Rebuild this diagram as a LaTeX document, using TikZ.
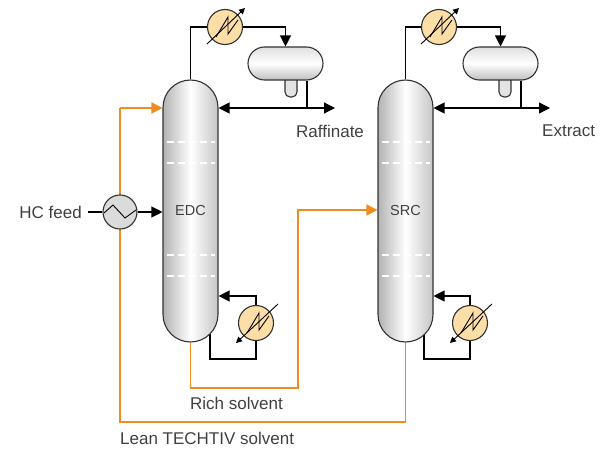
\documentclass[tikz,border=0pt]{standalone}
\usepackage{fontspec}
\setmainfont{Liberation Sans}
\usetikzlibrary{arrows.meta,calc,backgrounds}
\definecolor{orng}{RGB}{240,140,30}
\definecolor{cond}{RGB}{252,222,166}
\definecolor{txt}{RGB}{64,64,64}
\definecolor{edge}{RGB}{50,50,50}
\begin{document}
\begin{tikzpicture}[x=1pt,y=-1pt,
  line/.style={draw=black, line width=1.2pt},
  oline/.style={draw=orng, line width=1.5pt},
  tip/.style={-{Triangle[length=11pt,width=11pt]}},
  twotip/.style={{Triangle[length=11pt,width=11pt]}-{Triangle[length=11pt,width=11pt]}},
  smalltip/.style={-{Triangle[length=6pt,width=6pt]}},
  column/.style={draw=edge, line width=1.1pt, minimum width=55pt, minimum height=262pt, rounded corners=27.5pt, left color=gray!60, right color=gray!45, middle color=white, inner sep=0pt, font=\fontsize{14.5}{16}\selectfont, text=txt},
  drum/.style={draw=edge, line width=1.1pt, minimum width=75pt, minimum height=33pt, rounded corners=16.5pt, top color=gray!25, bottom color=gray!50, middle color=white, inner sep=0pt},
  boot/.style={draw=edge, line width=1.1pt, fill=gray!22, rounded corners=5pt},
  hx/.style={circle, draw=edge, line width=1.1pt, fill=cond, minimum size=35pt, inner sep=0pt},
  exch/.style={circle, draw=edge, line width=1.1pt, fill=gray!28, minimum size=34pt, inner sep=0pt},
  tray/.style={draw=white, line width=1.6pt, dash pattern=on 7pt off 4pt},
  lbl/.style={text=txt, font=\fontsize{17}{20}\selectfont, inner sep=0pt, anchor=west},
]
\useasboundingbox (0,0) rectangle (611,452);

% ---------- EDC ----------
\draw[boot] (285,70) -- (285,97) -- (297,97) -- (297,70);
\node[drum] (ed) at (285.5,63.5) {};
\node[column] (edc) at (190.5,211) {EDC};
\foreach \yy in {142,163,255,276} \draw[tray] (167,\yy) -- (215,\yy);
\node[hx] (ec) at (225,27) {};
\node[hx] (eb) at (256,323) {};
\node[exch] (hx) at (120,212) {};

% ---------- SRC ----------
\draw[boot] (499,70) -- (499,97) -- (511,97) -- (511,70);
\node[drum] (sd) at (500.5,63.5) {};
\node[column] (src) at (405.5,211) {SRC};
\foreach \yy in {142,163,255,276} \draw[tray] (382,\yy) -- (430,\yy);
\node[hx] (sc) at (439,27) {};
\node[hx] (sb) at (470,323) {};

% heat exchanger symbols
\foreach \n in {ec,sc} {
  \draw[line width=0.9pt, shift={(\n.center)}] (-9,10) -- (3,-10) -- (3,7) -- (13,-7);
  \draw[line width=0.9pt, smalltip, shift={(\n.center)}] (-18,17) -- (20,-19);
}
\foreach \n in {eb,sb} {
  \draw[line width=0.9pt, shift={(\n.center)}] (-9,10) -- (3,-10) -- (3,7) -- (13,-7);
  \draw[line width=0.9pt, smalltip, shift={(\n.center)}] (22,-19) -- (-20,20);
}
\draw[line width=0.9pt, shift={(hx.center)}] (-16,1) -- (-7,-7) -- (5,6) -- (16,-2);

% labels
\node[lbl] (lraf) at (296,131) {Raffinate};
\node[lbl] (lext) at (542,131) {Extract};
\node[lbl, anchor=east] (lhc) at (82,212) {HC feed};
\node[lbl] (lrich) at (190,403) {Rich solvent};
\node[lbl] (llean) at (120,438) {Lean TECHTIV solvent};

% coordinates
\coordinate (e1) at (190.5,27);
\coordinate (e2) at (285.5,27);
\coordinate (e3) at (307,108);
\coordinate (e4) at (335,108);
\coordinate (b1) at (256,296);
\coordinate (b2) at (256,359);
\coordinate (b3) at (210,359);
\coordinate (b4) at (210,320);
\coordinate (s1) at (405.5,27);
\coordinate (s2) at (500.5,27);
\coordinate (s3) at (521,108);
\coordinate (s4) at (550,108);
\coordinate (t1) at (470,296);
\coordinate (t2) at (470,359);
\coordinate (t3) at (424,359);
\coordinate (t4) at (424,320);
\coordinate (o1) at (120,108);
\coordinate (o2) at (120,422);
\coordinate (o3) at (405.5,422);
\coordinate (r1) at (190.5,388);
\coordinate (r2) at (298,388);
\coordinate (r3) at (298,210);
\coordinate (f0) at (88,212);

\begin{scope}[on background layer]
  % orange solvent lines
  \draw[oline, tip] (o1) -- (edc.west |- o1);
  \draw[oline] (o1) -- (o2) -- (o3) -- (src.south);
  \draw[oline, tip] (edc.south) -- (r1) -- (r2) -- (r3) -- (src.west |- r3);
  % EDC black lines
  \draw[line] (edc.north) -- (e1) -- (ec.west);
  \draw[line, tip] (ec.east) -- (e2) -- (ed.north);
  \draw[line] (ed.south -| e3) -- (e3);
  \draw[line, twotip] (edc.east |- e3) -- (e4);
  \draw[line, tip] (eb.north) -- (b1) -- (edc.east |- b1);
  \draw[line] (eb.south) -- (b2) -- (b3) -- (b4);
  \draw[line] (f0) -- (hx.west);
  \draw[line, tip] (hx.east) -- (edc.west |- hx.east);
  % SRC black lines
  \draw[line] (src.north) -- (s1) -- (sc.west);
  \draw[line, tip] (sc.east) -- (s2) -- (sd.north);
  \draw[line] (sd.south -| s3) -- (s3);
  \draw[line, twotip] (src.east |- s3) -- (s4);
  \draw[line, tip] (sb.north) -- (t1) -- (src.east |- t1);
  \draw[line] (sb.south) -- (t2) -- (t3) -- (t4);
\end{scope}
\end{tikzpicture}
\end{document}
